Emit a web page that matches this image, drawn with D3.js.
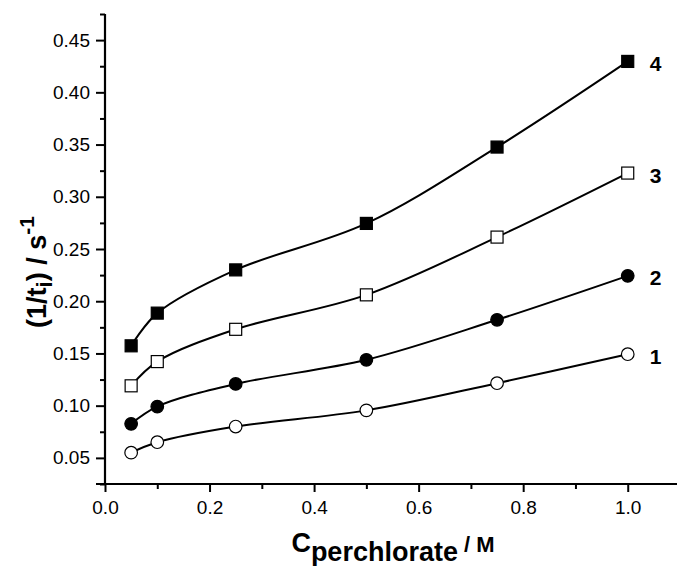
<!DOCTYPE html>
<html>
<head>
<meta charset="utf-8">
<script src="https://cdn.jsdelivr.net/npm/d3@7"></script>
<style>
  body { margin: 0; background: #fff; }
  svg { display: block; font-family: Arial, "Liberation Sans", sans-serif; }
</style>
</head>
<body>
<div id="chart"></div>
<script>
// concentration of perchlorate, M
const conc = [0.05, 0.1, 0.25, 0.5, 0.75, 1.0];

// 1/t_i values, s^-1
const series1 = [0.055, 0.065, 0.080, 0.0955, 0.1215, 0.1493];
const series2 = [0.0826, 0.0991, 0.1208, 0.1439, 0.1822, 0.2243];
const series3 = [0.119, 0.1422, 0.1731, 0.2061, 0.2614, 0.3227];
const series4 = [0.1573, 0.1886, 0.2300, 0.2745, 0.3476, 0.4296];

const seriesNames = ["1", "2", "3", "4"];
const xTicks = [0.0, 0.2, 0.4, 0.6, 0.8, 1.0];
const yTicks = [0.05, 0.10, 0.15, 0.20, 0.25, 0.30, 0.35, 0.40, 0.45];

const width = 677, height = 566;
const margin = { top: 14, right: -3, bottom: 82, left: 105 };

const svg = d3.select("#chart")
    .append("svg")
    .attr("width", width)
    .attr("height", height);

const x = d3.scaleLinear()
    .domain([0, 1.1])
    .range([margin.left, width - margin.right]);

const y = d3.scaleLinear()
    .domain([0.025, 0.475])
    .range([height - margin.bottom, margin.top]);

// minor ticks first
svg.append("g")
    .attr("transform", `translate(0, ${y(0.025)})`)
    .call(d3.axisBottom(x).tickValues(d3.range(0.1, 1.1, 0.2)).tickSize(5).tickFormat(""))
    .call(g => g.select(".domain").remove())
    .selectAll("line").attr("stroke-width", 2);

svg.append("g")
    .attr("transform", `translate(${x(0)}, 0)`)
    .call(d3.axisLeft(y).tickValues(d3.range(0.025, 0.476, 0.05)).tickSize(5).tickFormat(""))
    .call(g => g.select(".domain").remove())
    .selectAll("line").attr("stroke-width", 2);

// X axis
const xAxis = svg.append("g")
    .attr("transform", `translate(0, ${y(0.025)})`)
    .call(d3.axisBottom(x).tickValues(xTicks).tickSize(8).tickPadding(9).tickFormat(d3.format(".1f")));
xAxis.select(".domain").attr("stroke-width", 2.2).attr("d", `M${x(0) - 9},0H${x(1.1)}`);
xAxis.selectAll("line").attr("stroke-width", 2);
xAxis.selectAll("text").style("font-size", "19px").attr("fill", "#000");

// Y axis
const yAxis = svg.append("g")
    .attr("transform", `translate(${x(0)}, 0)`)
    .call(d3.axisLeft(y).tickValues(yTicks).tickSize(9).tickPadding(6).tickFormat(d3.format(".2f")));
yAxis.select(".domain").attr("stroke-width", 2.2).attr("d", `M0,${y(0.025)}V${y(0.475)}`);
yAxis.selectAll("line").attr("stroke-width", 2);
yAxis.selectAll("text").style("font-size", "19px").attr("fill", "#000");

// lines
const all = [series1, series2, series3, series4];
const line = d3.line()
    .x((d, i) => x(conc[i]))
    .y(d => y(d))
    .curve(d3.curveCatmullRom.alpha(0.5));

svg.append("g")
    .selectAll("path")
    .data(all)
    .join("path")
    .attr("d", d => line(d))
    .attr("fill", "none")
    .attr("stroke", "#000")
    .attr("stroke-width", 2);

// markers
const markerFill = ["#fff", "#000", "#fff", "#000"];
all.forEach((s, k) => {
    const g = svg.append("g");
    if (k < 2) {
        g.selectAll("circle")
            .data(s)
            .join("circle")
            .attr("cx", (d, i) => x(conc[i]))
            .attr("cy", d => y(d))
            .attr("r", 6.3)
            .attr("fill", markerFill[k])
            .attr("stroke", "#000")
            .attr("stroke-width", 1.2);
    } else {
        g.selectAll("rect")
            .data(s)
            .join("rect")
            .attr("x", (d, i) => x(conc[i]) - 6)
            .attr("y", d => y(d) - 6)
            .attr("width", 12)
            .attr("height", 12)
            .attr("fill", markerFill[k])
            .attr("stroke", "#000")
            .attr("stroke-width", 1.2);
    }
    // series number
    svg.append("text")
        .attr("x", x(conc[conc.length - 1]) + 22)
        .attr("y", y(s[s.length - 1]) + 9.5)
        .style("font-size", "21px")
        .attr("font-weight", "bold")
        .text(seriesNames[k]);
});

// x title
const xt = svg.append("text")
    .attr("x", 393)
    .attr("y", 552)
    .attr("text-anchor", "middle")
    .style("font-size", "27px")
    .attr("font-weight", "bold");
xt.append("tspan").text("C");
xt.append("tspan").style("font-size", "27px").attr("dy", 9).text("perchlorate");
xt.append("tspan").style("font-size", "22px").attr("dy", -9).text(" / M");

// y title
const yt = svg.append("text")
    .attr("transform", `translate(46, 272) rotate(-90)`)
    .attr("text-anchor", "middle")
    .style("font-size", "27px")
    .attr("font-weight", "bold");
yt.append("tspan").text("(1/t");
yt.append("tspan").style("font-size", "22px").attr("dy", 6).text("i");
yt.append("tspan").attr("dy", -6).text(") / s");
yt.append("tspan").style("font-size", "21px").attr("dy", -12).text("-1");
</script>
</body>
</html>
